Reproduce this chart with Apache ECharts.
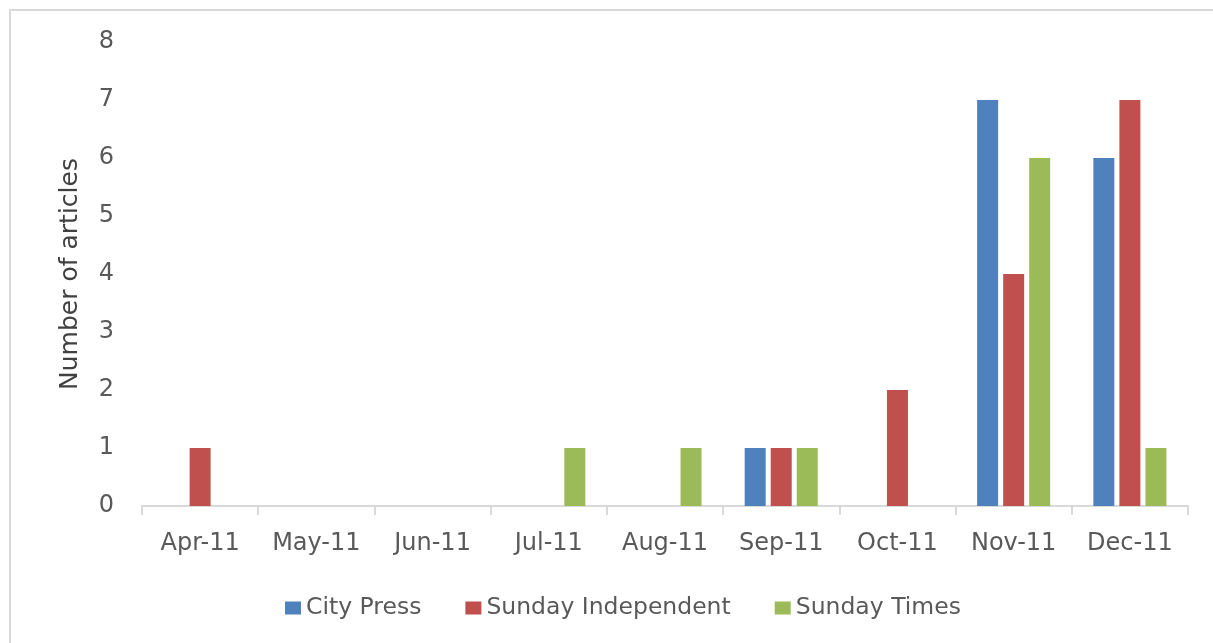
<!DOCTYPE html>
<html>
<head>
<meta charset="utf-8">
<script src="https://cdn.jsdelivr.net/npm/echarts@6/dist/echarts.min.js"></script>
<style>
html,body{margin:0;padding:0;background:#fff;}
#frame{position:absolute;left:9px;top:9px;width:1204px;height:634px;border-left:2px solid #D9D9D9;border-top:2px solid #D9D9D9;box-sizing:border-box;}
#chart{position:absolute;left:0;top:0;width:1213px;height:643px;}
</style>
</head>
<body>
<div id="frame"></div>
<div id="chart"></div>
<script>
const categories = ['Apr-11','May-11','Jun-11','Jul-11','Aug-11','Sep-11','Oct-11','Nov-11','Dec-11'];
const cityPress = [0,0,0,0,0,1,0,7,6];
const sundayIndependent = [1,0,0,0,0,1,2,4,7];
const sundayTimes = [0,0,0,1,1,1,0,6,1];
const seriesNames = ['City Press','Sunday Independent','Sunday Times'];
const yTicks = [0,1,2,3,4,5,6,7,8];
const colors = ['#4F81BD','#C0504D','#9BBB59'];

const font = 'DejaVu Sans';
const chart = echarts.init(document.getElementById('chart'), null, {renderer:'canvas'});
const mk = (name, data, i) => ({
  name, type:'bar', data, barWidth:21, barGap:'24%',
  itemStyle:{color:colors[i]}
});
chart.setOption({
  animation:false,
  backgroundColor:'transparent',
  grid:{left:142, right:25, top:42, bottom:137, containLabel:false},
  legend:{
    left:280, top:591, itemWidth:16, itemHeight:13, itemGap:44,
    icon:'rect',
    textStyle:{fontFamily:font, fontSize:23.5, color:'#595959'},
    data:seriesNames
  },
  xAxis:{
    type:'category', data:categories,
    axisLine:{lineStyle:{color:'#D9D9D9', width:2}},
    axisTick:{show:true, length:9, lineStyle:{color:'#D9D9D9', width:2}},
    axisLabel:{fontFamily:font, fontSize:24, color:'#595959', margin:26},
    splitLine:{show:false}
  },
  yAxis:{
    type:'value', min:yTicks[0], max:yTicks[yTicks.length-1], interval:1,
    name:'Number of articles', nameLocation:'middle', nameGap:59,
    nameTextStyle:{fontFamily:font, fontSize:25, color:'#404040'},
    axisLine:{show:false}, axisTick:{show:false},
    axisLabel:{fontFamily:font, fontSize:24, color:'#595959', margin:28},
    splitLine:{show:false}
  },
  series:[
    mk(seriesNames[0], cityPress, 0),
    mk(seriesNames[1], sundayIndependent, 1),
    mk(seriesNames[2], sundayTimes, 2)
  ]
});
</script>
</body>
</html>
